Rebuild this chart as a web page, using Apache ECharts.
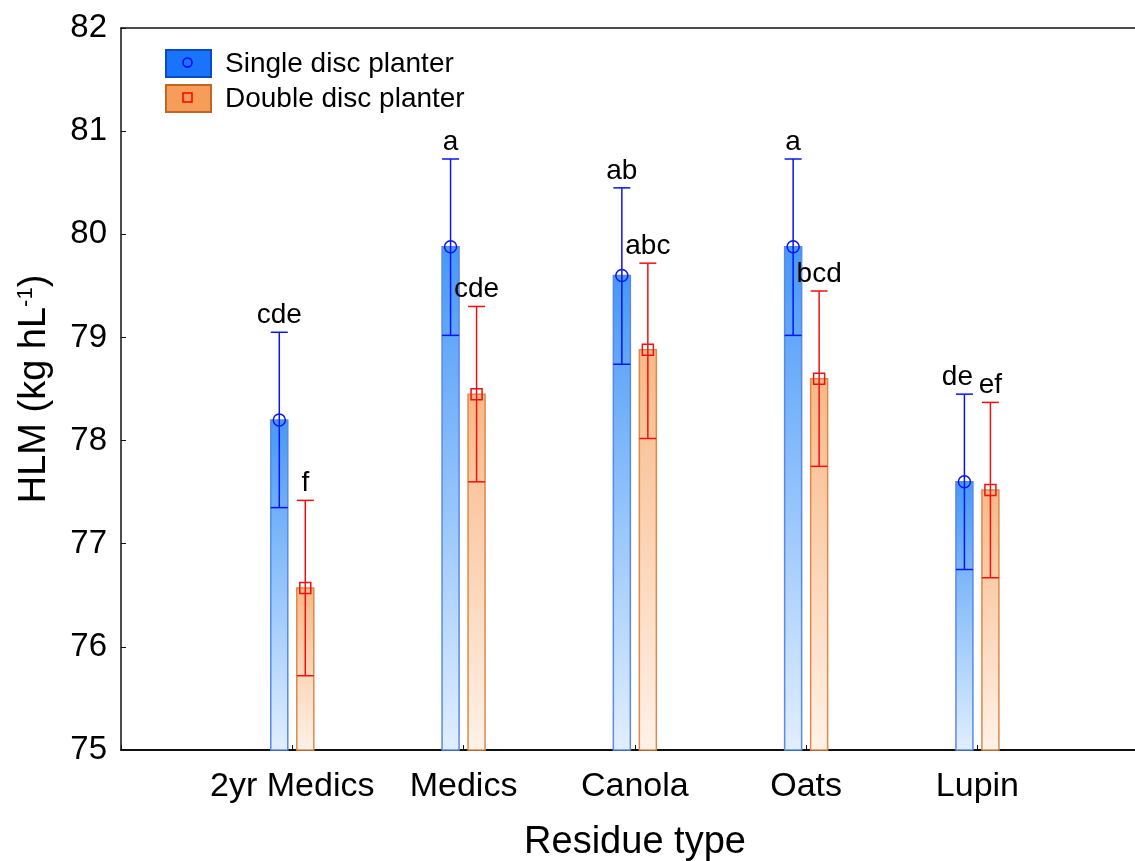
<!DOCTYPE html>
<html>
<head>
<meta charset="utf-8">
<title>HLM by residue type and planter</title>
<script src="https://cdn.jsdelivr.net/npm/echarts@6/dist/echarts.min.js"></script>
<style>
  html, body { margin: 0; padding: 0; background: #fff; }
  #chart { width: 1135px; height: 861px; }
</style>
</head>
<body>
<div id="chart"></div>
<script>
// Residue types along the x axis
const categories = ['2yr Medics', 'Medics', 'Canola', 'Oats', 'Lupin'];

// Single disc planter: means, lower and upper error limits, significance letters
const singleMean  = [78.20, 79.88, 79.60, 79.88, 77.60];
const singleLow   = [77.35, 79.02, 78.74, 79.02, 76.75];
const singleHigh  = [79.05, 80.73, 80.45, 80.73, 78.45];
const singleLetters = ['cde', 'a', 'ab', 'a', 'de'];

// Double disc planter: means, lower and upper error limits, significance letters
const doubleMean  = [76.57, 78.45, 78.88, 78.60, 77.52];
const doubleLow   = [75.72, 77.60, 78.02, 77.75, 76.67];
const doubleHigh  = [77.42, 79.30, 79.72, 79.45, 78.37];
const doubleLetters = ['f', 'cde', 'abc', 'bcd', 'ef'];

// Y axis range
const yMin = 75, yMax = 82, yStep = 1;

const FONT = '"Liberation Sans", Arial, sans-serif';

function rows(mean, low, high) {
  return mean.map((m, i) => [i + 1, m, low[i], high[i]]);
}

function makeRenderer(opts) {
  return function (params, api) {
    const x = api.value(0);
    const m = api.value(1);
    const lo = api.value(2);
    const hi = api.value(3);
    const base = api.coord([x, yMin]);
    const pM = api.coord([x, m]);
    const pLo = api.coord([x, lo]);
    const pHi = api.coord([x, hi]);
    const cx = base[0] + opts.offset;
    const bw = 17;
    const cap = 17;
    const children = [];
    // bar
    children.push({
      type: 'rect',
      shape: { x: cx - bw / 2, y: pM[1], width: bw, height: base[1] - pM[1] },
      style: {
        fill: new echarts.graphic.LinearGradient(0, 0, 0, 1, [
          { offset: 0, color: opts.top },
          { offset: 1, color: opts.bottom }
        ]),
        stroke: opts.border,
        lineWidth: 1.5
      }
    });
    // error bar
    const eb = { stroke: opts.err, lineWidth: 1.5 };
    children.push({ type: 'line', shape: { x1: cx, y1: pLo[1], x2: cx, y2: pHi[1] }, style: eb });
    children.push({ type: 'line', shape: { x1: cx - cap / 2, y1: pHi[1], x2: cx + cap / 2, y2: pHi[1] }, style: eb });
    children.push({ type: 'line', shape: { x1: cx - cap / 2, y1: pLo[1], x2: cx + cap / 2, y2: pLo[1] }, style: eb });
    // mean marker
    if (opts.marker === 'circle') {
      children.push({ type: 'circle', shape: { cx: cx, cy: pM[1], r: 6 }, style: { fill: 'none', stroke: opts.err, lineWidth: 1.5 } });
    } else {
      children.push({ type: 'rect', shape: { x: cx - 5.5, y: pM[1] - 5.5, width: 11, height: 11 }, style: { fill: 'none', stroke: opts.err, lineWidth: 1.5 } });
    }
    // significance letter
    const nudge = (opts.nudge && opts.nudge[params.dataIndex]) || 0;
    children.push({
      type: 'text',
      x: cx + nudge,
      y: pHi[1] - 3,
      style: {
        text: opts.letters[params.dataIndex],
        font: '28px ' + FONT,
        fill: '#000',
        align: 'center',
        verticalAlign: 'bottom'
      }
    });
    return { type: 'group', children: children };
  };
}

const chart = echarts.init(document.getElementById('chart'), null, { renderer: 'canvas' });

const xMax = 5.92;

const option = {
  backgroundColor: '#fff',
  animation: false,
  grid: { left: 121, right: 0, top: 28, bottom: 111, containLabel: false, outerBoundsMode: 'none' },
  xAxis: [
    {
      type: 'value',
      min: 0,
      max: xMax,
      interval: 1,
      position: 'bottom',
      name: 'Residue type',
      nameLocation: 'middle',
      nameGap: 74,
      nameTextStyle: { fontFamily: FONT, fontSize: 38, color: '#000', padding: [0, 0, 0, 14] },
      axisLine: { show: true, onZero: false, lineStyle: { color: '#111', width: 2 } },
      axisTick: { show: true, inside: true, length: 5, lineStyle: { color: '#111', width: 1 } },
      axisLabel: {
        fontFamily: FONT, fontSize: 34, color: '#000', margin: 20,
        showMaxLabel: false, showMinLabel: true,
        formatter: function (v) {
          const i = Math.round(v);
          return (Math.abs(v - i) < 1e-6 && i >= 1 && i <= categories.length) ? categories[i - 1] : '';
        }
      },
      splitLine: { show: false }
    },
    {
      type: 'value',
      min: 0,
      max: xMax,
      position: 'top',
      axisLine: { show: true, onZero: false, lineStyle: { color: '#111', width: 1.5 } },
      axisTick: { show: false },
      axisLabel: { show: false },
      splitLine: { show: false }
    }
  ],
  yAxis: {
    type: 'value',
    min: yMin,
    max: yMax,
    interval: yStep,
    name: 'HLM (kg hL{sup|-1})',
    nameLocation: 'middle',
    nameGap: 66,
    nameTextStyle: {
      fontFamily: FONT, fontSize: 38, color: '#000',
      rich: { sup: { fontFamily: FONT, fontSize: 22, color: '#000', verticalAlign: 'top', padding: [0, 0, 18, 0] } }
    },
    axisLine: { show: true, lineStyle: { color: '#111', width: 1.5 } },
    axisTick: { show: true, inside: true, length: 5, lineStyle: { color: '#111', width: 1 } },
    axisLabel: { fontFamily: FONT, fontSize: 33, color: '#000', margin: 14, padding: [8, 0, 0, 0] },
    splitLine: { show: false }
  },
  series: [
    {
      name: 'Single disc planter',
      type: 'custom',
      xAxisIndex: 0,
      renderItem: makeRenderer({
        offset: -13, top: '#4698f7', bottom: '#e2efff', border: '#5a8ae6',
        err: '#0a14f0', marker: 'circle', letters: singleLetters, nudge: { 4: -7 }
      }),
      encode: { x: 0, y: 1 },
      data: rows(singleMean, singleLow, singleHigh),
      z: 3
    },
    {
      name: 'Double disc planter',
      type: 'custom',
      xAxisIndex: 0,
      renderItem: makeRenderer({
        offset: 13, top: '#f8b886', bottom: '#fff2e8', border: '#dc8a4c',
        err: '#f01010', marker: 'square', letters: doubleLetters
      }),
      encode: { x: 0, y: 1 },
      data: rows(doubleMean, doubleLow, doubleHigh),
      z: 3
    }
  ],
  graphic: [
    { type: 'rect', left: 165, top: 49, shape: { width: 45, height: 27 }, style: { fill: '#1a74fb', stroke: '#0a4bc4', lineWidth: 2 } },
    { type: 'circle', shape: { cx: 187.5, cy: 62.5, r: 4.5 }, style: { fill: 'none', stroke: '#0000ff', lineWidth: 1.5 } },
    { type: 'text', left: 225, top: 50, style: { text: 'Single disc planter', font: '28px ' + FONT, fill: '#000' } },
    { type: 'rect', left: 165, top: 84, shape: { width: 45, height: 27 }, style: { fill: '#f79d5a', stroke: '#c0661f', lineWidth: 2 } },
    { type: 'rect', shape: { x: 183, y: 93, width: 9, height: 9 }, style: { fill: 'none', stroke: '#ff0000', lineWidth: 1.5 } },
    { type: 'text', left: 225, top: 85, style: { text: 'Double disc planter', font: '28px ' + FONT, fill: '#000' } }
  ]
};

chart.setOption(option);
</script>
</body>
</html>
